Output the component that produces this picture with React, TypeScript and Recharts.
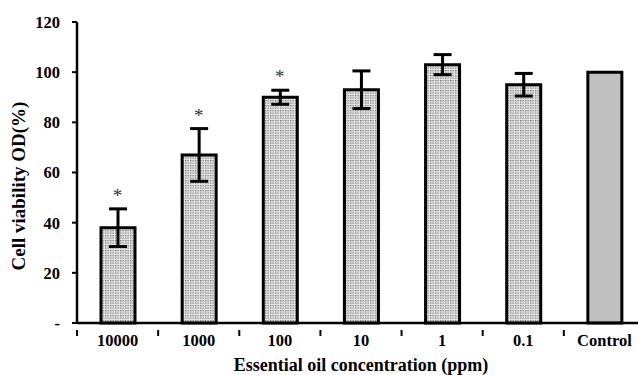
import React from "react";
import {
  ComposedChart,
  Bar,
  Cell,
  ErrorBar,
  Scatter,
  XAxis,
  YAxis,
} from "recharts";

const categories = ["10000", "1000", "100", "10", "1", "0.1", "Control"];
const viability = [38, 67, 90, 93, 103, 95, 100];
const errors = [7.5, 10.5, 2.8, 7.5, 4, 4.5, 0];
const significant = [true, true, true, false, false, false, false];
const yTicks = [0, 20, 40, 60, 80, 100, 120];

const FONT = "'Liberation Serif', 'Times New Roman', serif";

const data = categories.map((c, i) => ({
  name: c,
  value: viability[i],
  err: errors[i],
  star: significant[i] ? viability[i] + errors[i] : null,
}));

const XTick = (props: any) => {
  const { x, y, payload, index } = props;
  const off = payload?.offset ?? 40.5;
  return (
    <g>
      <line x1={x - off} y1={y - 1} x2={x - off} y2={y + 5} stroke="#000" strokeWidth={2} />
      {index === categories.length - 1 && (
        <line x1={x + off} y1={y - 1} x2={x + off} y2={y + 5} stroke="#000" strokeWidth={2} />
      )}
      <text
        x={x}
        y={y + 15}
        textAnchor="middle"
        fontFamily={FONT}
        fontWeight="bold"
        fontSize={16.5}
        fill="#000"
      >
        {payload.value}
      </text>
    </g>
  );
};

const StarShape = (props: any) => {
  const { cx, cy } = props;
  if (cx == null || cy == null) return null;
  return (
    <text
      x={cx}
      y={cy - 7}
      textAnchor="middle"
      fontFamily={FONT}
      fontSize={19}
      fill="#333"
    >
      *
    </text>
  );
};

export default function App() {
  return (
    <div
      style={{
        position: "absolute",
        left: 0,
        top: 0,
        width: 638,
        height: 375,
        overflow: "hidden",
        background: "#fff",
      }}
    >
      <ComposedChart
        width={660}
        height={375}
        data={data}
        margin={{ top: 22, right: 15, bottom: 0, left: 0 }}
        barCategoryGap={0}
      >
        <defs>
          <pattern id="dots" width="2.5" height="2.5" patternUnits="userSpaceOnUse">
            <rect width="2.5" height="2.5" fill="#e6e6e6" />
            <rect width="1.3" height="1.3" fill="#7a7a7a" />
          </pattern>
        </defs>
        <XAxis
          dataKey="name"
          interval={0}
          axisLine={{ stroke: "#000", strokeWidth: 2.5 }}
          tickLine={false}
          tick={<XTick />}
          height={52}
          label={{
            value: "Essential oil concentration (ppm)",
            position: "insideBottom",
            offset: 4,
            style: {
              fontFamily: FONT,
              fontWeight: "bold",
              fontSize: 18,
              fill: "#000",
            },
          }}
        />
        <YAxis
          domain={[0, 120]}
          ticks={yTicks}
          width={77}
          axisLine={{ stroke: "#000", strokeWidth: 2.5 }}
          tickLine={{ stroke: "#000", strokeWidth: 2 }}
          tickSize={5}
          tickMargin={12}
          tickFormatter={(v: number) => (v === 0 ? "-" : String(v))}
          tick={{
            fontFamily: FONT,
            fontWeight: "bold",
            fontSize: 16.5,
            fill: "#000",
          }}
          label={{
            content: () => (
              <text
                x={25}
                y={186}
                transform="rotate(-90 25 186)"
                textAnchor="middle"
                fontFamily={FONT}
                fontWeight="bold"
                fontSize={19}
                fill="#000"
              >
                Cell viability OD(%)
              </text>
            ),
          }}
        />
        <Bar
          dataKey="value"
          barSize={34}
          stroke="#000"
          strokeWidth={3}
          isAnimationActive={false}
        >
          {data.map((d, i) => (
            <Cell key={d.name} fill={i === data.length - 1 ? "#c0c0c0" : "url(#dots)"} />
          ))}
          <ErrorBar
            dataKey="err"
            width={9}
            strokeWidth={3}
            stroke="#000"
            direction="y"
          />
        </Bar>
        <Scatter
          dataKey="star"
          shape={<StarShape />}
          isAnimationActive={false}
        />
      </ComposedChart>
    </div>
  );
}
